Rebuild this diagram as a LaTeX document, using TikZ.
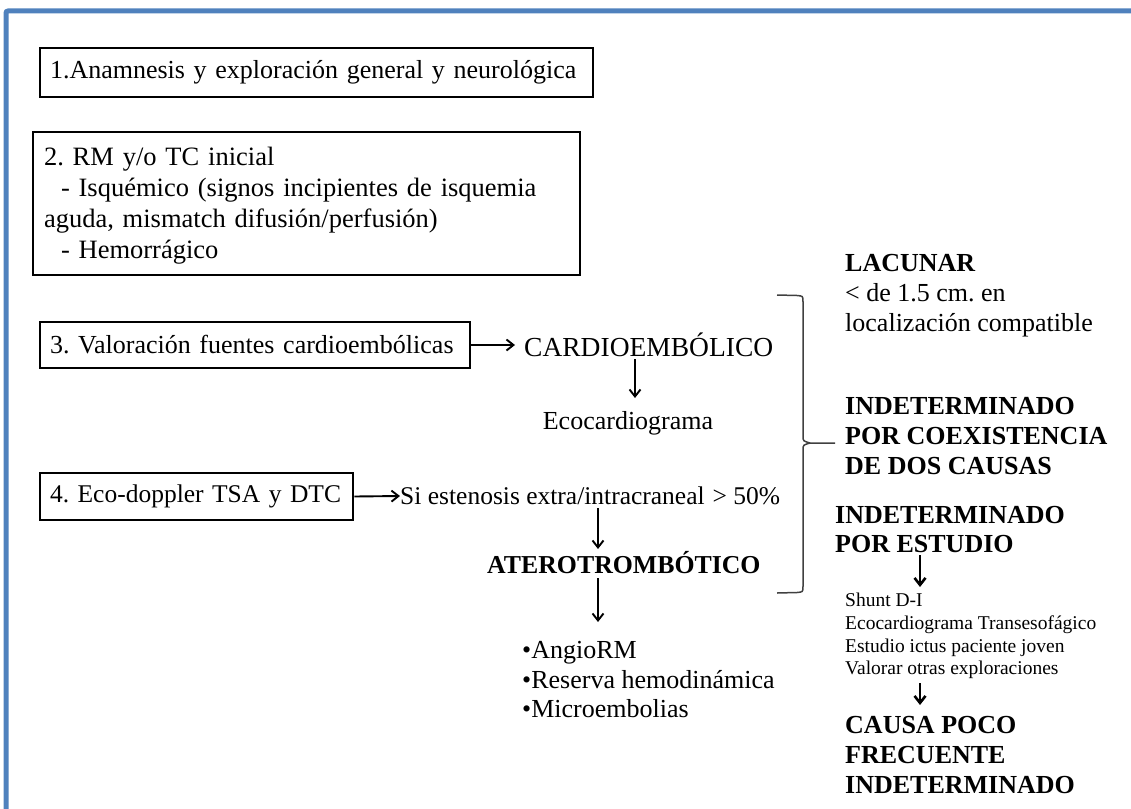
\documentclass[tikz,border=0pt]{standalone}
\usepackage{fontspec}
\setmainfont{Liberation Serif}
\frenchspacing
\usetikzlibrary{arrows.meta,calc}
\definecolor{frameblue}{HTML}{4F81BD}
\tikzset{
  box/.style={draw, line width=2.6pt, inner xsep=10pt, inner ysep=0pt, align=left, anchor=center},
  txt/.style={inner sep=0pt, align=left, anchor=west},
  arr/.style={-{Straight Barb[length=7pt,width=11pt]}, line width=1.9pt},
  darr/.style={-{Straight Barb[length=7pt,width=11pt]}, line width=2.6pt},
  brace/.style={draw=black!75, line width=1.5pt},
}
\begin{document}
\begin{tikzpicture}[x=1pt,y=-1pt]
\useasboundingbox (0,0) rectangle (1131,808);
% outer frame, partly visible
\draw[frameblue, line width=5pt, rounded corners=2pt] (6,810) -- (6,11) -- (1135,11);

% numbered steps
\node[box, text width=533pt, minimum height=49pt, font=\fontsize{26}{28}\selectfont] (b1) at (316.5,72.5)
  {\mbox{1.Anamnesis y exploración general y neurológica}};
\node[box, inner xsep=11pt, text width=525pt, minimum height=143pt, font=\fontsize{26.5}{31}\selectfont] (b2) at (306.5,203.5)
  {\rule{0pt}{22pt}2. RM y/o TC inicial\\
   \hspace*{17pt}- Isquémico (signos incipientes de isquemia\\
   aguda, mismatch difusión/perfusión)\\
   \hspace*{17pt}- Hemorrágico};
\node[box, text width=410pt, minimum height=46pt, font=\fontsize{26}{28}\selectfont] (b3) at (255,345)
  {\mbox{3. Valoración fuentes cardioembólicas}};
\node[box, text width=293pt, minimum height=47pt, font=\fontsize{25.5}{28}\selectfont] (b4) at (196.5,496.5)
  {\mbox{4. Eco-doppler TSA y DTC}};

% central column
\node[txt, font=\fontsize{27.5}{28}\selectfont] (cardio) at (524,345) {CARDIOEMBÓLICO};
\node[inner sep=0pt, font=\fontsize{26}{28}\selectfont] (eco) at (628,423) {Ecocardiograma};
\node[txt, font=\fontsize{25.5}{28}\selectfont] (siest) at (400,496) {Si estenosis extra/intracraneal\hspace{8pt}> 50\%};
\node[txt, font=\bfseries\fontsize{25.8}{28}\selectfont] (atero) at (487,563) {ATEROTROMBÓTICO};
\node[txt, font=\fontsize{26}{29.5}\selectfont] (bul) at (522,680)
  {•AngioRM\\ •Reserva hemodinámica\\ •Microembolias};

\coordinate (xc) at (635,0);
\coordinate (xa) at (598,0);
\draw[arr] (b3.east) -- (cardio.west -| 515,0);
\draw[arr] (b4.east) -- (siest.west);
\draw[arr] (cardio.south -| xc) ++(0,2) -- (635,398);
\draw[arr] (xa |- siest.south) ++(0,3) -- (598,549);
\draw[arr] (xa |- atero.south) ++(0,4) -- (598,622);

% brace gathering the causes
\draw[brace] (777,295) -- (797,295.5) .. controls (803,296) .. (803,302) -- (803,436)
  .. controls (803,441) .. (810,443) -- (835,443);
\draw[brace] (810,443) .. controls (803,445) .. (803,450) -- (803,586)
  .. controls (803,592) .. (797,592.5) -- (777,593);

% right column
\node[txt, font=\fontsize{26}{30}\selectfont] (lac) at (845,296)
  {\textbf{LACUNAR}\\ < de 1.5 cm. en\\ localización compatible};
\node[txt, font=\bfseries\fontsize{26}{30}\selectfont] (ind1) at (845,436)
  {INDETERMINADO\\ POR COEXISTENCIA\\ DE DOS CAUSAS};
\node[txt, font=\bfseries\fontsize{26}{29.5}\selectfont] (ind2) at (835,529.5)
  {INDETERMINADO\\ POR ESTUDIO};
\node[txt, font=\fontsize{19.5}{22.7}\selectfont] (list) at (845,636)
  {Shunt D-I\\ Ecocardiograma Transesofágico\\ Estudio ictus paciente joven\\ Valorar otras exploraciones};
\node[txt, font=\bfseries\fontsize{26}{30}\selectfont] (causa) at (845,755)
  {CAUSA POCO\\ FRECUENTE\\ INDETERMINADO};

\coordinate (xr) at (920,0);
\draw[darr] (xr |- ind2.south) ++(0,2) -- (920,587);
\draw[darr] (xr |- list.south) ++(0,4) -- (920,705);
\end{tikzpicture}
\end{document}
